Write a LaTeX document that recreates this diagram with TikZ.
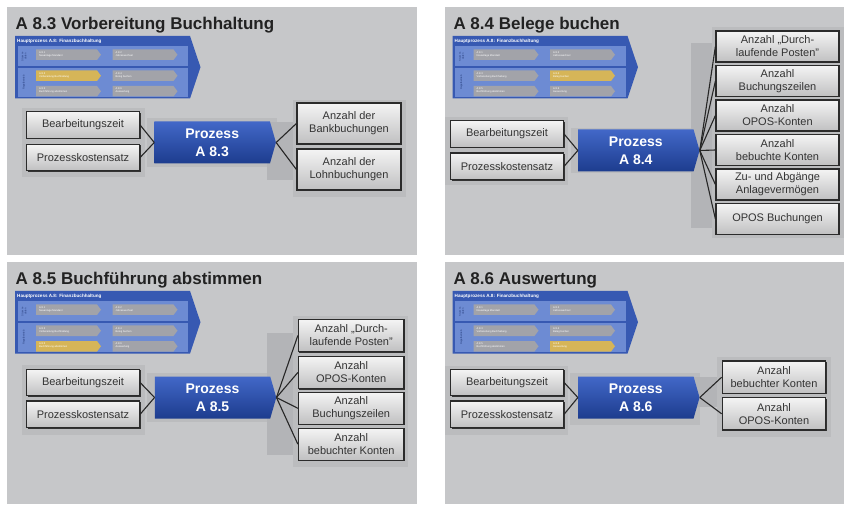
\documentclass[tikz,border=0pt]{standalone}
\usepackage{fontspec}
\setmainfont{Liberation Sans}
\usetikzlibrary{shapes.symbols,shadows}
\definecolor{panelgray}{HTML}{C6C7C9}
\definecolor{backgray}{HTML}{BBBCBE}
\definecolor{bandgray}{HTML}{B3B4B7}
\definecolor{boxtop}{HTML}{F4F4F4}
\definecolor{boxbot}{HTML}{C0C0C1}
\definecolor{boxborder}{HTML}{2B2B2B}
\definecolor{boxtext}{HTML}{333333}
\definecolor{proztop}{HTML}{4268C8}
\definecolor{prozbot}{HTML}{1D3C8E}
\definecolor{thumbblue}{HTML}{3759B2}
\definecolor{thumbrow}{HTML}{6D8BD3}
\definecolor{chevgray}{HTML}{A2A3A9}
\definecolor{chevyellow}{HTML}{D6B558}
\definecolor{titletext}{HTML}{222222}
\tikzset{
  infobox/.style={draw=boxborder, line width=1.2pt, top color=boxtop, bottom color=boxbot,
    text=boxtext, font=\fontsize{11}{13}\selectfont, align=center, inner sep=0pt,
    drop shadow={shadow xshift=1pt, shadow yshift=-1pt, fill=black!80, opacity=1}},
  leftbox/.style={infobox, minimum width=113pt, minimum height=26.5pt},
  prozess/.style={shape=signal, signal to=east, signal pointer angle=148,
    top color=proztop, bottom color=prozbot, text=white,
    font=\bfseries\fontsize{14}{18}\selectfont, align=center, inner sep=0pt,
    minimum width=121.5pt, minimum height=42pt},
  conn/.style={draw=black!85, line width=1.1pt},
  title/.style={anchor=base west, font=\bfseries\fontsize{17}{20}\selectfont, text=titletext, inner sep=0pt},
  thumbhead/.style={anchor=west, inner sep=0pt, text=white, font=\bfseries\fontsize{4.6}{5}\selectfont},
  thumblabel/.style={rotate=90, inner sep=0pt, align=center, text=thumbblue!70!black, font=\fontsize{2.6}{3}\selectfont},
  thumbtext/.style={anchor=north west, inner sep=0pt, align=left, text=white!92, font=\fontsize{2.6}{3.2}\selectfont},
}
\newcommand\thumbchev[5]{%
  \fill[#3] (#1,#2) -- ++(61,0) -- ++(4,5.25) -- ++(-4,5.25) -- ++(-61,0) -- cycle;
  \node[thumbtext] at ({#1+3},{#2+1.6}) {#4\\#5};
}
\newcommand\thumbnail[8]{%
  \begin{scope}[shift={(#1,#2)}]
    \fill[thumbblue] (15,36) -- (190,36) -- (200.5,67.2) -- (190,98.5) -- (15,98.5) -- cycle;
    \fill[thumbrow] (17.5,46.5) rectangle (188,66.5);
    \fill[thumbrow] (17.5,68.5) rectangle (188,97);
    \node[thumbhead] at (17,41) {Hauptprozess A.8: Finanzbuchhaltung};
    \node[thumblabel] at (24,56.5) {Stamm-\\daten};
    \node[thumblabel] at (24,82.5) {Regelbetrieb};
    \thumbchev{36}{49.5}{#3}{A 8.1}{Neuanlage Mandant}
    \thumbchev{112.5}{49.5}{#4}{A 8.2}{Jahreswechsel}
    \thumbchev{36}{70.5}{#5}{A 8.3}{Vorbereitung Buchhaltung}
    \thumbchev{112.5}{70.5}{#6}{A 8.4}{Beleg buchen}
    \thumbchev{36}{86}{#7}{A 8.5}{Buchführung abstimmen}
    \thumbchev{112.5}{86}{#8}{A 8.6}{Auswertung}
  \end{scope}}
\begin{document}
\begin{tikzpicture}[x=1pt,y=-1pt]
\useasboundingbox (0,0) rectangle (844,505);
\fill[white] (0,0) rectangle (844,505);

% ---------------- Panel 1 ----------------
\fill[panelgray] (7,7) rectangle (417,255);
\fill[backgray] (21.7,108) rectangle (145,177);
\fill[backgray] (146.7,118) rectangle (276.7,166.7);
\fill[bandgray] (267,122) rectangle (297,180);
\fill[backgray] (293,100) rectangle (406,197);
\thumbnail{0}{0}{chevgray}{chevgray}{chevyellow}{chevgray}{chevgray}{chevgray}
\node[title] (t1) at (15.5,29.3) {A 8.3 Vorbereitung Buchhaltung};
\node[leftbox] (a1) at (83,125) {Bearbeitungszeit};
\node[leftbox] (a2) at (83,157.5) {Prozesskostensatz};
\node[prozess] (p1) at (212.2,142.5) {Prozess\\A 8.3};
\node[infobox, minimum width=104pt, minimum height=41pt] (r11) at (349,123.5) {Anzahl der\\Bankbuchungen};
\node[infobox, minimum width=104pt, minimum height=41pt] (r12) at (349,169.5) {Anzahl der\\Lohnbuchungen};
\draw[conn] (a1.east) -- (p1.west);
\draw[conn] (a2.east) -- (p1.west);
\draw[conn] (p1.east) -- (r11.west);
\draw[conn] (p1.east) -- (r12.west);

% ---------------- Panel 2 ----------------
\fill[panelgray] (445,7) rectangle (844,255);
\fill[backgray] (445,116.7) rectangle (568,185);
\fill[backgray] (570.7,127.7) rectangle (700,173.3);
\fill[bandgray] (690.7,43) rectangle (714,228);
\fill[backgray] (711.7,26.7) rectangle (844,238.3);
\thumbnail{437.5}{0}{chevgray}{chevgray}{chevgray}{chevyellow}{chevgray}{chevgray}
\node[title] (t2) at (453.3,29.3) {A 8.4 Belege buchen};
\node[leftbox] (b1) at (507,134) {Bearbeitungszeit};
\node[leftbox] (b2) at (507,166.3) {Prozesskostensatz};
\node[prozess] (p2) at (635.8,150.5) {Prozess\\A 8.4};
\tikzset{rbox2/.style={infobox, minimum width=123pt, minimum height=31pt}}
\node[rbox2] (r21) at (777.5,46.5) {Anzahl „Durch-\\laufende Posten"};
\node[rbox2] (r22) at (777.5,81) {Anzahl\\Buchungszeilen};
\node[rbox2] (r23) at (777.5,115.5) {Anzahl\\OPOS-Konten};
\node[rbox2] (r24) at (777.5,150) {Anzahl\\bebuchte Konten};
\node[rbox2] (r25) at (777.5,184.5) {Zu- und Abgänge\\Anlagevermögen};
\node[rbox2] (r26) at (777.5,219) {OPOS Buchungen};
\draw[conn] (b1.east) -- (p2.west);
\draw[conn] (b2.east) -- (p2.west);
\foreach \r in {r21,r22,r23,r24,r25,r26} \draw[conn] (p2.east) -- (\r.west);

% ---------------- Panel 3 ----------------
\fill[panelgray] (7,262) rectangle (417,504);
\fill[backgray] (21.7,365) rectangle (145,435);
\fill[backgray] (146.7,373) rectangle (277,421.7);
\fill[bandgray] (266.7,333.3) rectangle (296.7,455);
\fill[backgray] (293.3,315.7) rectangle (408,466.7);
\thumbnail{0}{255}{chevgray}{chevgray}{chevgray}{chevgray}{chevyellow}{chevgray}
\node[title] (t3) at (15.5,284.3) {A 8.5 Buchführung abstimmen};
\node[leftbox] (c1) at (83,382.5) {Bearbeitungszeit};
\node[leftbox] (c2) at (83,414.3) {Prozesskostensatz};
\node[prozess] (p3) at (212.5,397.5) {Prozess\\A 8.5};
\tikzset{rbox3/.style={infobox, minimum width=105.5pt, minimum height=32pt}}
\node[rbox3] (r31) at (351.2,335.5) {Anzahl „Durch-\\laufende Posten"};
\node[rbox3] (r32) at (351.2,372.5) {Anzahl\\OPOS-Konten};
\node[rbox3] (r33) at (351.2,408.3) {Anzahl\\Buchungszeilen};
\node[rbox3] (r34) at (351.2,444.2) {Anzahl\\bebuchter Konten};
\draw[conn] (c1.east) -- (p3.west);
\draw[conn] (c2.east) -- (p3.west);
\foreach \r in {r31,r32,r33,r34} \draw[conn] (p3.east) -- (\r.west);

% ---------------- Panel 4 ----------------
\fill[panelgray] (445,262) rectangle (844,504);
\fill[backgray] (445,366) rectangle (568,435);
\fill[backgray] (570,373.3) rectangle (700,425);
\fill[bandgray] (690,376.7) rectangle (721.7,406.7);
\fill[backgray] (717.3,356.7) rectangle (830.7,436.7);
\thumbnail{437.5}{255}{chevgray}{chevgray}{chevgray}{chevgray}{chevgray}{chevyellow}
\node[title] (t4) at (453.3,284.3) {A 8.6 Auswertung};
\node[leftbox] (d1) at (507,382.5) {Bearbeitungszeit};
\node[leftbox] (d2) at (507,414.3) {Prozesskostensatz};
\node[prozess] (p4) at (635.8,397.5) {Prozess\\A 8.6};
\tikzset{rbox4/.style={infobox, minimum width=103.5pt, minimum height=32.3pt}}
\node[rbox4] (r41) at (774,377.2) {Anzahl\\bebuchter Konten};
\node[rbox4] (r42) at (774,413.8) {Anzahl\\OPOS-Konten};
\draw[conn] (d1.east) -- (p4.west);
\draw[conn] (d2.east) -- (p4.west);
\draw[conn] (p4.east) -- (r41.west);
\draw[conn] (p4.east) -- (r42.west);
\end{tikzpicture}
\end{document}
